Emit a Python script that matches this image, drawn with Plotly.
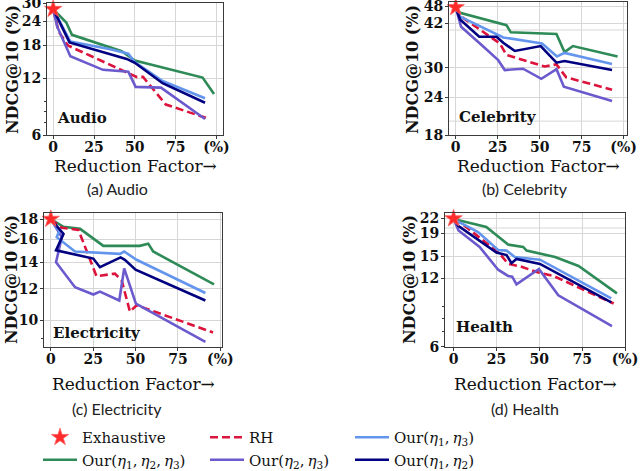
import plotly.graph_objects as go
import math

# ---------------- data ----------------
# Audio
audio_x_our123 = [0, 8, 11.5, 42, 50, 91.5, 98.5]
audio_y_our123 = [27.9, 23.7, 20.4, 16.7, 14.9, 12.1, 9.9]
audio_x_rh = [0, 3.4, 9, 51, 55, 69, 93.5]
audio_y_rh = [27.9, 21.2, 17.9, 12.2, 12.2, 8.7, 7.4]
audio_x_our23 = [0, 2.4, 10.5, 30.5, 46, 50.5, 66, 93]
audio_y_our23 = [27.9, 22.6, 15.7, 13.3, 13.0, 10.8, 10.7, 7.3]
audio_x_our13 = [0, 10.5, 35, 46, 50, 67, 93]
audio_y_our13 = [27.9, 18.8, 17.1, 16.2, 14.6, 11.6, 9.4]
audio_x_our12 = [0, 10, 45, 50, 67, 93]
audio_y_our12 = [27.9, 18.6, 15.2, 14.5, 11.3, 8.9]

# Celebrity
celeb_x_our123 = [0, 2.6, 30.2, 32.8, 60, 64.8, 69.8, 96.4]
celeb_y_our123 = [47.5, 45.6, 41.5, 39.3, 38.8, 33.8, 35.4, 32.7]
celeb_x_rh = [0, 3.2, 26.3, 30.2, 53, 60, 65.8, 93.1]
celeb_y_rh = [47.5, 44.3, 36.1, 33.1, 30.3, 30.8, 27.9, 25.4]
celeb_x_our23 = [0, 3.2, 15.4, 25.3, 29.2, 40.1, 51, 60, 64.4, 93.1]
celeb_y_our23 = [47.5, 41.0, 35.7, 31.8, 29.5, 29.8, 27.6, 29.7, 26.0, 23.3]
celeb_x_our13 = [0, 2.6, 28.3, 36.2, 51.4, 60.3, 64.8, 93.1]
celeb_y_our13 = [47.5, 44.3, 37.8, 37.2, 36.1, 32.7, 33.6, 30.9]
celeb_x_our12 = [0, 2.6, 14, 24.3, 28.3, 35.2, 50.6, 60, 64.8, 93.1]
celeb_y_our12 = [47.5, 43.3, 38.0, 38.0, 36.3, 34.1, 35.4, 31.2, 31.6, 29.5]

# Electricity
elec_x_our123 = [0, 7.5, 17.3, 31, 52.5, 57.5, 60.4, 96.3]
elec_y_our123 = [18.0, 17.2, 17.0, 15.4, 15.4, 15.6, 14.9, 12.3]
elec_x_rh = [0, 6.5, 16.3, 27, 37.8, 41.8, 46.7, 50.6, 95.7]
elec_y_rh = [18.0, 17.1, 16.9, 12.9, 13.1, 12.6, 10.5, 10.9, 9.3]
elec_x_our23 = [0, 6.5, 3.1, 14.3, 25.1, 29, 40.4, 43.3, 50.2, 91.2]
elec_y_our23 = [18.0, 16.2, 14.0, 12.1, 11.6, 11.8, 11.2, 13.5, 11.0, 8.8]
elec_x_our13 = [0, 5, 3.5, 14.3, 40.8, 43.3, 50.6, 91.2]
elec_y_our13 = [18.0, 16.8, 16.2, 14.9, 14.7, 14.9, 14.2, 11.7]
elec_x_our12 = [0, 7.5, 3.1, 25.1, 29, 41.2, 43.7, 50, 91.2]
elec_y_our12 = [18.0, 16.5, 15.0, 14.3, 13.6, 14.4, 14.2, 13.4, 11.2]

# Health
health_x_our123 = [0, 19.1, 31.8, 40.6, 42.6, 59.2, 72.9, 95.3]
health_y_our123 = [21.9, 20.2, 16.9, 16.5, 15.9, 14.9, 13.6, 10.3]
health_x_rh = [0, 4.5, 27, 31.8, 39.6, 48.4, 58.2, 93.4]
health_y_rh = [21.9, 21.0, 15.4, 13.9, 13.5, 12.8, 12.3, 9.3]
health_x_our23 = [0, 2.9, 15.2, 26, 31.8, 34.2, 36.7, 49.8, 61.1, 92.4]
health_y_our23 = [21.9, 19.5, 16.5, 13.1, 12.3, 12.2, 11.3, 13.2, 10.1, 7.4]
health_x_our13 = [0, 14.3, 26, 30.9, 35.7, 50.4, 92]
health_y_our13 = [21.9, 19.2, 16.0, 15.9, 14.9, 14.5, 9.8]
health_x_our12 = [0, 2.9, 25, 30.9, 33.8, 36.7, 50.4, 92]
health_y_our12 = [21.9, 20.4, 15.6, 15.2, 14.0, 14.6, 13.9, 9.4]

# exhaustive (x = 0)
exhaustive_x = [0]
exhaustive_audio = [27.9]
exhaustive_celeb = [47.5]
exhaustive_elec = [18.0]
exhaustive_health = [22.0]

# tick labels
x_tickvals = [0, 25, 50, 75, 100]
x_ticktext = ["0", "25", "50", "75", "(%)"]
audio_yticks = [6, 12, 18, 24, 30]
celeb_yticks = [18, 24, 30, 42, 48]
elec_yticks = [10, 12, 14, 16, 18]
health_yticks = [6, 12, 15, 19, 22]
# extra (unlabelled) horizontal grid lines
audio_extra_grid = [20]
celeb_extra_grid = [20, 40]
elec_extra_grid = []
health_extra_grid = [20]

dataset_names = ["Audio", "Celebrity", "Electricity", "Health"]
captions = ["(a) Audio", "(b) Celebrity", "(c) Electricity", "(d) Health"]

# ---------------- styling ----------------
SERIF = "DejaVu Serif"
C_GREEN = "#2e8b57"
C_LBLUE = "#6495ed"
C_SLATE = "#6a5acd"
C_NAVY = "#000080"
C_RH = "#dc143c"
C_STAR = "#ff2a2a"
C_GRID = "#d6d6d6"
LW = 2.6

W, H = 640, 471

def px_dom_x(a, b):
    return [a / W, b / W]

def px_dom_y(top, bot):
    return [1 - bot / H, 1 - top / H]

panels = [
    dict(name=dataset_names[0], cap=captions[0],
         series=[(audio_x_our123, audio_y_our123), (audio_x_rh, audio_y_rh),
                 (audio_x_our23, audio_y_our23), (audio_x_our13, audio_y_our13),
                 (audio_x_our12, audio_y_our12)],
         star=exhaustive_audio, yt=audio_yticks, grid=audio_extra_grid,
         yr=[6, 30.2], xr=[-3.8, 104], minor=[7, 8, 9],
         dx=px_dom_x(47, 223), dy=px_dom_y(2.7, 135),
         lab=(0.045, 0.13), ytitle_x=13, ytitle_y=70, capx=117, xtit_y=166, cap_y=188),
    dict(name=dataset_names[1], cap=captions[1],
         series=[(celeb_x_our123, celeb_y_our123), (celeb_x_rh, celeb_y_rh),
                 (celeb_x_our23, celeb_y_our23), (celeb_x_our13, celeb_y_our13),
                 (celeb_x_our12, celeb_y_our12)],
         star=exhaustive_celeb, yt=celeb_yticks, grid=celeb_extra_grid,
         yr=[18, 49.6], xr=[-4, 102], minor=[],
         dx=px_dom_x(449, 627), dy=px_dom_y(1.7, 135),
         lab=(0.045, 0.135), ytitle_x=413, ytitle_y=70, capx=525, xtit_y=166, cap_y=188),
    dict(name=dataset_names[2], cap=captions[2],
         series=[(elec_x_our123, elec_y_our123), (elec_x_rh, elec_y_rh),
                 (elec_x_our23, elec_y_our23), (elec_x_our13, elec_y_our13),
                 (elec_x_our12, elec_y_our12)],
         star=exhaustive_elec, yt=elec_yticks, grid=elec_extra_grid,
         yr=[8.56, 18.7], xr=[-4, 101], minor=[9],
         dx=px_dom_x(44, 222), dy=px_dom_y(212.5, 346.7),
         lab=(0.04, 0.10), ytitle_x=11, ytitle_y=280, capx=117, xtit_y=384, cap_y=408),
    dict(name=dataset_names[3], cap=captions[3],
         series=[(health_x_our123, health_y_our123), (health_x_rh, health_y_rh),
                 (health_x_our23, health_y_our23), (health_x_our13, health_y_our13),
                 (health_x_our12, health_y_our12)],
         star=exhaustive_health, yt=health_yticks, grid=health_extra_grid,
         yr=[6, 23.4], xr=[-5, 100], minor=[7, 8, 9],
         dx=px_dom_x(445, 625), dy=px_dom_y(212.5, 346.7),
         lab=(0.05, 0.15), ytitle_x=409, ytitle_y=280, capx=525, xtit_y=384, cap_y=408),
]

TS = "\u2009"

def eta(*idx):
    return "Our(" + ("," + TS).join(f"<i>η</i><sub>{i}</sub>" for i in idx) + ")"

line_specs = [
    dict(label=eta(1, 2, 3), color=C_GREEN, dash="solid", legend="legend", rank=2),
    dict(label="RH", color=C_RH, dash="8px,4px", legend="legend2", rank=3),
    dict(label=eta(2, 3), color=C_SLATE, dash="solid", legend="legend2", rank=4),
    dict(label=eta(1, 3), color=C_LBLUE, dash="solid", legend="legend3", rank=5),
    dict(label=eta(1, 2), color=C_NAVY, dash="solid", legend="legend3", rank=6),
]

fig = go.Figure()
annotations = []
shapes = []
layout_axes = {}

tickfont = dict(family=SERIF, size=14, color="#111", weight="bold")

for i, p in enumerate(panels):
    n = "" if i == 0 else str(i + 1)
    xref, yref = "x" + n, "y" + n
    for spec, (xs, ys) in zip(line_specs, p["series"]):
        fig.add_trace(go.Scatter(
            x=xs, y=ys, mode="lines", xaxis=xref, yaxis=yref,
            line=dict(color=spec["color"], width=LW, dash=spec["dash"]),
            name=spec["label"], showlegend=(i == 0), legend=spec["legend"],
            legendrank=spec["rank"], legendgroup=spec["label"], hoverinfo="skip"))
    fig.add_trace(go.Scatter(
        x=exhaustive_x, y=p["star"], mode="markers", xaxis=xref, yaxis=yref,
        marker=dict(symbol="star", size=13, color=C_STAR,
                    line=dict(color="#ff6060", width=0.8)),
        name="Exhaustive", showlegend=(i == 0), legend="legend",
        legendrank=1, legendgroup="Exhaustive", hoverinfo="skip", cliponaxis=False))

    layout_axes["xaxis" + n] = dict(
        domain=p["dx"], anchor=yref, range=p["xr"],
        tickvals=x_tickvals, ticktext=x_ticktext,
        showgrid=True, gridcolor=C_GRID, gridwidth=1,
        showline=True, mirror=True, linecolor="#3a3a3a", linewidth=1,
        ticks="outside", ticklen=3, tickcolor="#3a3a3a",
        ticklabelstandoff=-4, ticklabeloverflow="allow",
        tickfont=tickfont, zeroline=False, automargin=False)
    layout_axes["yaxis" + n] = dict(
        domain=p["dy"], anchor=xref, type="log",
        range=[math.log10(p["yr"][0]), math.log10(p["yr"][1])],
        tickvals=p["yt"], ticktext=[str(v) for v in p["yt"]],
        showgrid=True, gridcolor=C_GRID, gridwidth=1,
        showline=True, mirror=True, linecolor="#3a3a3a", linewidth=1,
        ticks="outside", ticklen=3, tickcolor="#3a3a3a",
        ticklabelstandoff=-1, ticklabeloverflow="allow",
        tickfont=tickfont, automargin=False,
        minor=dict(tickvals=p["minor"], ticks="outside", ticklen=2,
                   tickcolor="#3a3a3a", showgrid=False),
        zeroline=False)

    for g in p["grid"]:
        shapes.append(dict(type="line", xref=xref + " domain", yref=yref,
                           x0=0, x1=1, y0=g, y1=g, layer="below",
                           line=dict(color=C_GRID, width=1)))

    # dataset label inside the plot
    annotations.append(dict(
        text=p["name"], xref=xref + " domain", yref=yref + " domain",
        x=p["lab"][0], y=p["lab"][1], xanchor="left", yanchor="middle",
        showarrow=False, font=dict(family=SERIF, size=15, color="#111", weight="bold")))
    # y-axis title
    annotations.append(dict(
        text="NDCG@10 (%)", xref="paper", yref="paper",
        x=p["ytitle_x"] / W, y=1 - p["ytitle_y"] / H, textangle=-90,
        xanchor="center", yanchor="middle", showarrow=False,
        font=dict(family=SERIF, size=16, color="#111", weight="bold")))
    # x-axis title
    cx = (p["dx"][0] + p["dx"][1]) / 2
    annotations.append(dict(
        text="Reduction Factor→", xref="paper", yref="paper",
        x=cx, y=1 - p["xtit_y"] / H, xanchor="center", yanchor="middle",
        showarrow=False, font=dict(family=SERIF, size=17, color="#111")))
    # caption
    annotations.append(dict(
        text=p["cap"], xref="paper", yref="paper",
        x=p["capx"] / W, y=1 - p["cap_y"] / H, xanchor="center", yanchor="middle",
        showarrow=False, font=dict(family="Lato", size=16, color="#222")))

legend_common = dict(
    orientation="v", yanchor="top", xanchor="left", bgcolor="rgba(0,0,0,0)",
    font=dict(family=SERIF, size=15, color="#111"), tracegroupgap=7,
    itemwidth=34, traceorder="normal")

fig.update_layout(
    width=W, height=H, margin=dict(l=0, r=0, t=0, b=0, autoexpand=False),
    paper_bgcolor="white", plot_bgcolor="white",
    showlegend=True,
    legend=dict(x=38 / W, y=1 - 421 / H, **legend_common),
    legend2=dict(x=205 / W, y=1 - 421 / H, **legend_common),
    legend3=dict(x=350 / W, y=1 - 421 / H, **legend_common),
    annotations=annotations, shapes=shapes,
    **layout_axes)

fig.write_html("out.html",
               config={"displayModeBar": False, "staticPlot": True},
               post_script="document.body.style.margin='0px';document.body.style.overflow='hidden';")
